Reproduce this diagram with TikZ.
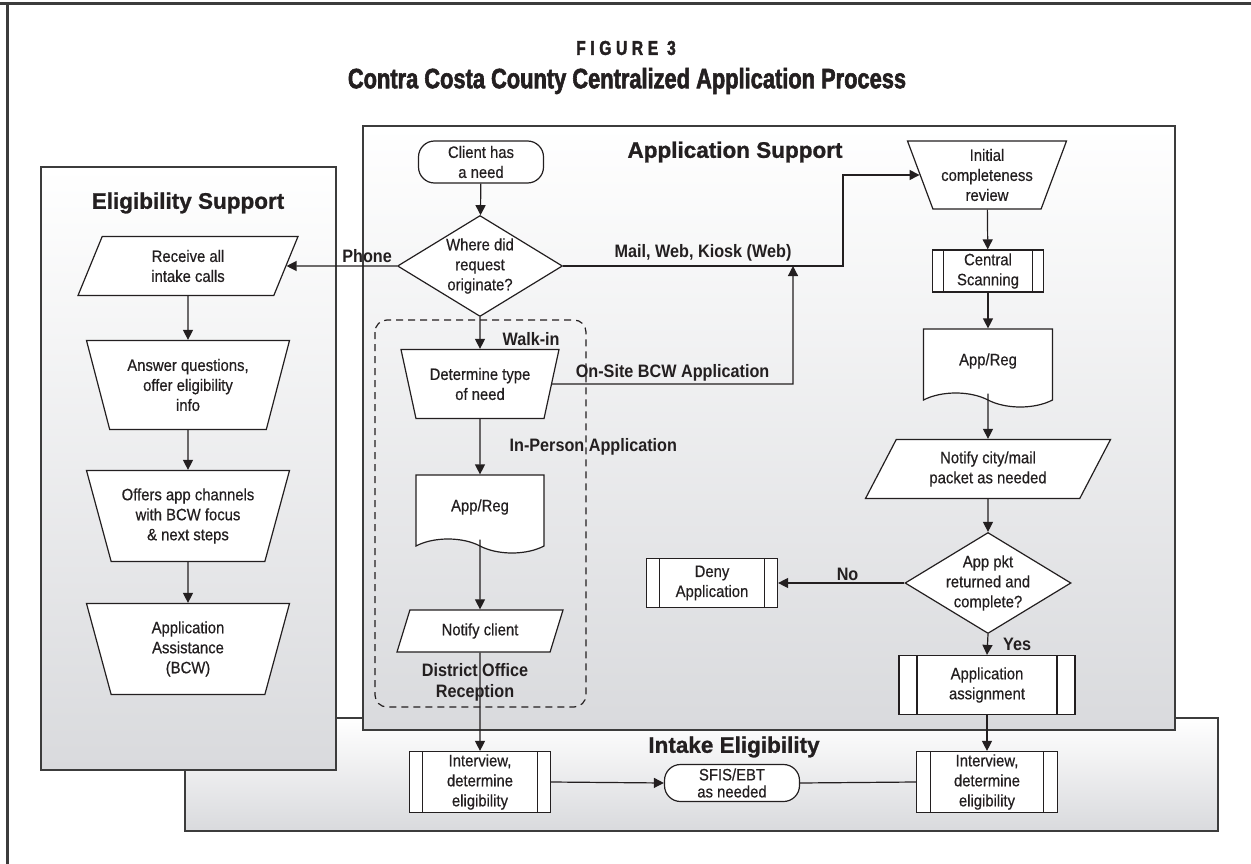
\documentclass[tikz,border=0pt]{standalone}
\usepackage{fontspec}
\setmainfont{Liberation Sans}[FakeStretch=0.9, UprightFeatures={FakeBold=0.5}]
\newfontfamily\headfont{Liberation Sans}[BoldFeatures={FakeBold=1}]
\newfontfamily\titlefont{Liberation Sans}[FakeStretch=0.78, BoldFeatures={FakeBold=2}]
\usepackage{tikz}
\usetikzlibrary{shapes, shapes.geometric, shapes.symbols, arrows.meta, positioning, calc}
\definecolor{ink}{HTML}{231F20}
\definecolor{rule}{HTML}{3C3C3C}
\definecolor{panelbot}{HTML}{D9DADD}

\begin{document}
\begin{tikzpicture}[x=1pt, y=-1pt, line width=1.2pt, color=ink,
    every node/.style={font=\fontsize{16.5}{20}\selectfont, align=center, inner sep=0pt},
    panel/.style={draw=rule, line width=1.5pt, top color=white, bottom color=panelbot},
    head/.style={font=\headfont\fontsize{22.5}{26}\selectfont\bfseries},
    lbl/.style={font=\fontsize{18}{21}\selectfont\bfseries},
    stepnode/.style={draw, fill=white},
    io/.style 2 args={stepnode, trapezium, trapezium left angle=#1, trapezium right angle=#2, trapezium stretches body},
    manual/.style={stepnode, trapezium, trapezium left angle=#1, trapezium right angle=#1, trapezium stretches body, inner xsep=-12pt},
    subproc/.style={stepnode, rectangle, path picture={
        \draw ([xshift=#1]path picture bounding box.north west) -- ([xshift=#1]path picture bounding box.south west)
              ([xshift=-#1]path picture bounding box.north east) -- ([xshift=-#1]path picture bounding box.south east);}},
    subproc/.default=13pt,
    terminal/.style={stepnode, rectangle, rounded corners=16pt},
    doc/.style={stepnode, tape, tape bend top=none, tape bend bottom=out and in, tape bend height=14pt},
    decision/.style={stepnode, diamond, aspect=1.63, inner sep=-5pt},
    flow/.style={-{Triangle[length=10pt, width=10pt]}}]

  \useasboundingbox (0,0) rectangle (1251,864);
  \draw[rule, line width=3pt] (0,4) -- (1251,4) (7,4) -- (7,864);

  \node[font=\titlefont\fontsize{20}{24}\selectfont\bfseries\addfontfeatures{LetterSpace=23}] (fignum) at (626,48) {FIGURE 3};
  \node[font=\titlefont\fontsize{28}{32}\selectfont\bfseries] (title) at (627,81) {Contra Costa County Centralized Application Process};

  \draw[panel] (185,718) rectangle (1218,831);
  \draw[panel] (41,167) rectangle (336,770);
  \draw[panel] (363,126) rectangle (1175,730);

  \node[head] (eshead) at (188,203) {Eligibility Support};
  \node[head] (ashead) at (735,152) {Application Support};
  \node[head] (iehead) at (734,747) {Intake Eligibility};

  \draw[dash pattern=on 7pt off 5pt, rounded corners=12pt] (375,320) rectangle (586,707);

  \node[io={53}{127}, minimum width=220pt, minimum height=59pt] (recv) at (188,266) {Receive all\\intake calls};
  \node[manual=114, minimum width=203pt, minimum height=89pt] (answer) at (188,385) {Answer questions,\\offer eligibility\\info};
  \node[manual=114, minimum width=203pt, minimum height=91pt] (offers) at (188,516) {Offers app channels\\with BCW focus\\\& next steps};
  \node[manual=114, minimum width=203pt, minimum height=91pt] (assist) at (188,649) {Application\\Assistance\\(BCW)};

  \node[terminal, minimum width=125pt, minimum height=42pt] (client) at (481,162) {Client has\\a need};
  \node[decision, minimum width=165pt, minimum height=101pt] (where) at (480,266) {Where did\\request\\originate?};
  \node[manual=115, minimum width=158pt, minimum height=69pt] (dettype) at (480,384) {Determine type\\of need};
  \node[doc, minimum width=128pt, minimum height=78pt] (appreg1) at (480,507) {App/Reg};
  \node[io={50}{130}, minimum width=166pt, minimum height=42pt] (notify1) at (480,631) {Notify client};
  \node[lbl] (district) at (475,682) {District Office\\Reception};

  \node[manual=116, minimum width=159pt, minimum height=68pt] (initial) at (987,175) {Initial\\completeness\\review};
  \node[subproc=11pt, minimum width=111pt, minimum height=42pt] (scan) at (988,271) {Central\\Scanning};
  \node[doc, minimum width=129pt, minimum height=78pt] (appreg2) at (988,361) {App/Reg};
  \node[io={49}{131}, minimum width=245pt, minimum height=59pt] (notify2) at (988,469) {Notify city/mail\\packet as needed};
  \node[decision, minimum width=166pt, minimum height=101pt] (appdec) at (988,583) {App pkt\\returned and\\complete?};
  \node[subproc, minimum width=131pt, minimum height=49pt] (deny) at (712,583) {Deny\\Application};
  \node[subproc=18pt, minimum width=176pt, minimum height=59pt] (assign) at (987,685) {Application\\assignment};

  \node[subproc, minimum width=141pt, minimum height=61pt] (interv1) at (480,782) {Interview,\\determine\\eligibility};
  \node[terminal, minimum width=135pt, minimum height=37pt] (sfis) at (732,783) {SFIS/EBT\\[-3pt]as needed};
  \node[subproc=14pt, minimum width=141pt, minimum height=61pt] (interv2) at (987,782) {Interview,\\determine\\eligibility};

  \coordinate (mailbend) at (843,266);
  \coordinate (onsite) at (793,384);

  \draw[flow] (recv) -- (answer);
  \draw[flow] (answer) -- (offers);
  \draw[flow] (offers) -- (assist);

  \draw[flow] (client) -- (where);
  \draw[flow] (where.west) -- node[lbl, above, yshift=3pt, pos=0.27] {Phone} (recv.east);
  \draw[flow] (where.south) -- node[lbl, right, xshift=22pt, pos=0.7] {Walk-in} (dettype.north);
  \draw[flow] (where.east) -- node[lbl, above, yshift=4pt] {Mail, Web, Kiosk (Web)} (mailbend) |- (initial.west);
  \draw[flow] (dettype.east) -- node[lbl, above, yshift=2pt] {On-Site BCW Application} (onsite) -- (onsite |- where.east);
  \draw[flow] (dettype.south) -- node[lbl, right, xshift=29pt] {In-Person Application} (appreg1.north);
  \draw[flow] (appreg1.south) -- (notify1.north);
  \draw[flow] (notify1.south) -- (interv1.north);

  \draw[flow] (initial) -- (scan);
  \draw[flow] (scan) -- (appreg2.north);
  \draw[flow] (appreg2.south) -- (notify2.north);
  \draw[flow] (notify2) -- (appdec);
  \draw[flow] (appdec.west) -- node[lbl, above, yshift=2pt, pos=0.45] {No} (deny.east);
  \draw[flow] (appdec.south) -- node[lbl, right, xshift=15pt] {Yes} (assign.north);
  \draw[flow] (assign) -- (interv2);

  \draw[flow] (interv1.east) -- (sfis.west);
  \draw (sfis.east) -- (interv2.west);
\end{tikzpicture}
\end{document}
